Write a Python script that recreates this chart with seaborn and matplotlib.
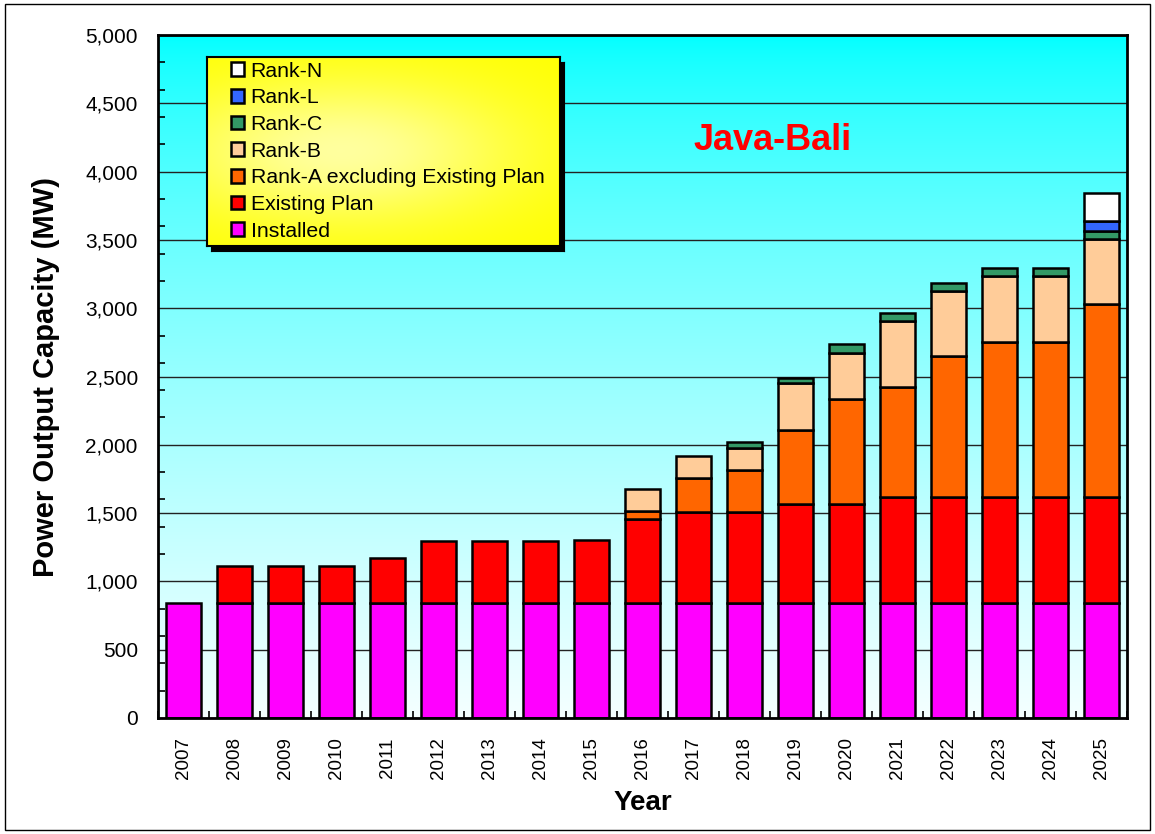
import numpy as np
import pandas as pd
import matplotlib
matplotlib.use("Agg")
import matplotlib.pyplot as plt
from matplotlib.patches import Patch, Rectangle
from matplotlib.ticker import MultipleLocator, FixedLocator, FuncFormatter
import seaborn as sns

# ---- data (MW) ----
years = [str(y) for y in range(2007, 2026)]
installed = [840] * 19
existing_plan = [0, 273, 273, 273, 334, 453, 453, 453, 463, 617,
                 670, 670, 727, 727, 780, 780, 780, 780, 780]
rank_a = [0] * 9 + [58, 245, 305, 538, 766, 805, 1030, 1135, 1135, 1410]
rank_b = [0] * 9 + [159, 163, 164, 345, 337, 481, 478, 483, 483, 477]
rank_c = [0] * 11 + [41, 37, 66, 61, 59, 54, 54, 60]
rank_l = [0] * 18 + [71]
rank_n = [0] * 18 + [203]

layer_names = ["Installed", "Existing Plan", "Rank-A excluding Existing Plan",
               "Rank-B", "Rank-C", "Rank-L", "Rank-N"]
layer_values = [installed, existing_plan, rank_a, rank_b, rank_c, rank_l, rank_n]
layer_colors = ["#FF00FF", "#FF0000", "#FF6600", "#FFCC99", "#339966", "#3366FF", "#FFFFFF"]

plt.rcParams["font.family"] = ["Liberation Sans", "DejaVu Sans"]

fig = plt.figure(figsize=(11.55, 8.34), dpi=100)
ax = fig.add_axes([0.1368, 0.1391, 0.8390, 0.8189])

# cyan-to-white vertical gradient behind the plot
t = np.linspace(0, 1, 256) ** 0.7
bg = np.zeros((256, 1, 3))
bg[:, 0, 0] = 0.96 * t
bg[:, 0, 1] = 1.0
bg[:, 0, 2] = 1.0
ax.imshow(bg, extent=[0, 1, 0, 1], transform=ax.transAxes, aspect="auto",
          zorder=0, interpolation="bilinear")

# stacked bars
bottom = np.zeros(len(years))
for name, vals, col in zip(layer_names, layer_values, layer_colors):
    vals = np.asarray(vals, dtype=float)
    mask = vals > 0
    sub = pd.DataFrame({"Year": np.array(years)[mask], "MW": vals[mask]})
    sns.barplot(data=sub, x="Year", y="MW", order=years, color=col, saturation=1,
                width=0.67, edgecolor="black", linewidth=1.8, bottom=bottom[mask],
                errorbar=None, ax=ax, zorder=2)
    bottom += vals

ax.set_xlim(-0.5, len(years) - 0.5)
ax.set_ylim(0, 5000)

# axes styling
ax.yaxis.set_major_locator(MultipleLocator(500))
ax.yaxis.set_minor_locator(MultipleLocator(200))
ax.yaxis.set_major_formatter(FuncFormatter(lambda v, p: f"{int(v):,}"))
ax.grid(axis="y", which="major", color="#222222", linewidth=1.0, zorder=1)
ax.set_axisbelow(True)
ax.tick_params(axis="y", which="major", length=0, labelsize=15, pad=14.5)
ax.tick_params(axis="y", which="minor", direction="in", length=5, width=1.2)
ax.xaxis.set_minor_locator(FixedLocator(np.arange(-0.5, len(years), 1.0)))
ax.tick_params(axis="x", which="major", length=0, labelsize=13.5, pad=14,
               labelrotation=90)
ax.tick_params(axis="x", which="minor", direction="in", length=5, width=1.2)
for s in ax.spines.values():
    s.set_color("black")
    s.set_linewidth(2.0)

ax.set_ylabel("Power Output Capacity (MW)", fontsize=21, fontweight="bold")
ax.yaxis.set_label_coords(-0.101, 0.5)
ax.set_xlabel("Year", fontsize=20, fontweight="bold")
ax.xaxis.set_label_coords(0.5, -0.105)

ax.text(0.634, 0.846, "Java-Bali", color="#FF0000", fontsize=26,
        fontweight="bold", ha="center", va="center", transform=ax.transAxes,
        zorder=4)

# legend box with drop shadow and yellow gradient fill
lx, ly, lw_, lh = 0.0506, 0.691, 0.3642, 0.2768
shadow = ax.inset_axes([lx + 0.0045, ly - 0.0075, lw_, lh], zorder=5)
shadow.set_facecolor("black")
shadow.set_xticks([])
shadow.set_yticks([])

lax = ax.inset_axes([lx, ly, lw_, lh], zorder=6)
gx, gy = np.meshgrid(np.linspace(0, 1, 200), np.linspace(0, 1, 120))
glow = 0.62 * np.exp(-(((gx - 0.38) / 0.5) ** 2 + ((gy - 0.5) / 0.38) ** 2))
lg = np.dstack([np.ones_like(gx), np.ones_like(gx), glow])
lax.imshow(lg, extent=[0, 1, 0, 1], aspect="auto", interpolation="bilinear")
lax.set_xlim(0, 1)
lax.set_ylim(0, 1)
lax.set_xticks([])
lax.set_yticks([])
for s in lax.spines.values():
    s.set_color("black")
    s.set_linewidth(1.5)

handles = [Patch(facecolor=c, edgecolor="black", linewidth=1.8)
           for c in layer_colors[::-1]]
lax.legend(handles, layer_names[::-1], loc="upper left",
           bbox_to_anchor=(0.068, 0.975), frameon=False, fontsize=15.3,
           handlelength=0.62, handleheight=0.62, handletextpad=0.3,
           labelspacing=0.36, borderpad=0, borderaxespad=0)

# thin frame around the whole figure
fig.add_artist(Rectangle((0.004, 0.005), 0.992, 0.99, transform=fig.transFigure,
                         fill=False, edgecolor="black", linewidth=1.0))

fig.savefig("out.png", dpi=100)
